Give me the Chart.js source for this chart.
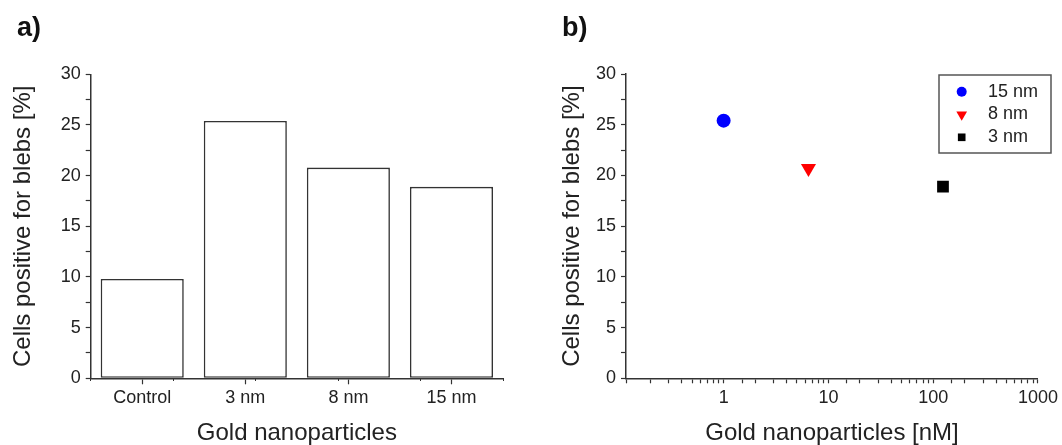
<!DOCTYPE html>
<html>
<head>
<meta charset="utf-8">
<script src="https://cdn.jsdelivr.net/npm/chart.js@4.4.1/dist/chart.umd.min.js"></script>
<style>
  html, body { margin: 0; padding: 0; background: #fff; }
  #wrap { position: relative; width: 1062px; height: 445px; overflow: hidden; }
  canvas { position: absolute; top: 0; }
  #chartA { left: 0; }
  #chartB { left: 531px; }
</style>
</head>
<body>
<div id="wrap">
  <canvas id="chartA" width="531" height="445"></canvas>
  <canvas id="chartB" width="531" height="445"></canvas>
</div>
<script>
// ---- Data ----
const barCategories = ['Control', '3 nm', '8 nm', '15 nm'];
const barValues = [9.8, 25.4, 20.8, 18.9];

const sizeLabels = ['15 nm', '8 nm', '3 nm'];
const concentrations = [1, 6.45, 124];      // nM
const blebValues = [25.4, 20.7, 18.9];      // %
const pointColors = ['#0000ff', '#ff0000', '#000000'];
const pointStyles = ['circle', 'triangle', 'rect'];

const yTickLabels = [0, 5, 10, 15, 20, 25, 30];
const logTickLabels = [1, 10, 100, 1000];

// ---- Common styling ----
const FONT = '"Liberation Sans", Arial, sans-serif';
const TEXT = '#222';
const AXIS = '#333';

Chart.defaults.font.family = FONT;
Chart.defaults.color = TEXT;

const panelLabel = {
  id: 'panelLabel',
  afterDraw(chart, args, opts) {
    const ctx = chart.ctx;
    ctx.save();
    ctx.font = 'bold 27px ' + FONT;
    ctx.fillStyle = '#111';
    ctx.textBaseline = 'alphabetic';
    ctx.fillText(opts.text, opts.x, opts.y);
    ctx.restore();
  }
};

// boxed legend like the Origin one
const boxLegend = {
  id: 'boxLegend',
  afterDraw(chart, args, opts) {
    if (!opts.show) return;
    const ctx = chart.ctx;
    ctx.save();
    ctx.strokeStyle = '#555';
    ctx.lineWidth = 1.5;
    ctx.strokeRect(opts.x, opts.y, opts.w, opts.h);
    ctx.font = '18px ' + FONT;
    ctx.textBaseline = 'middle';
    chart.data.datasets.forEach((ds, i) => {
      const cy = opts.y + opts.firstRow + i * opts.rowH;
      ctx.fillStyle = ds.backgroundColor;
      ctx.strokeStyle = ds.borderColor;
      Chart.helpers.drawPoint(ctx, {
        pointStyle: ds.pointStyle,
        rotation: ds.pointRotation || 0,
        radius: opts.markerRadius[i],
        borderWidth: 0
      }, opts.markX, cy);
      ctx.fillStyle = TEXT;
      ctx.fillText(ds.label, opts.textX, cy);
    });
    ctx.restore();
  }
};

function yAxis(titlePadTop, width) {
  return {
    type: 'linear',
    min: 0,
    max: 30,
    afterFit: (s) => { s.width = width; },
    border: { display: true, color: AXIS, width: 1.5 },
    grid: { drawOnChartArea: false, drawTicks: true, tickLength: 5, tickColor: AXIS, tickWidth: 1.2 },
    ticks: {
      stepSize: 2.5,
      padding: 5,
      font: { size: 18 },
      color: TEXT,
      callback: (v) => (yTickLabels.includes(v) ? String(v) : '')
    },
    title: {
      display: true,
      text: 'Cells positive for blebs [%]',
      font: { size: 24, lineHeight: 1 },
      color: TEXT,
      padding: { top: titlePadTop, bottom: 0 }
    }
  };
}

// ---- a) bar chart ----
new Chart(document.getElementById('chartA'), {
  type: 'bar',
  data: {
    labels: barCategories,
    datasets: [{
      data: barValues,
      backgroundColor: '#ffffff',
      borderColor: AXIS,
      borderWidth: 1.6,
      borderSkipped: false,
      barPercentage: 0.806,
      categoryPercentage: 1
    }]
  },
  options: {
    responsive: false,
    animation: false,
    layout: { padding: { left: 0, top: 74.3, right: 28, bottom: 0 } },
    plugins: {
      legend: { display: false },
      tooltip: { enabled: false },
      panelLabel: { text: 'a)', x: 17, y: 36 },
      boxLegend: { show: false }
    },
    scales: {
      x: {
        type: 'category',
        offset: true,
        afterFit: (s) => { s.height = 66.7; },
        border: { display: true, color: AXIS, width: 1.5 },
        grid: { offset: false, drawOnChartArea: false, drawTicks: true, tickLength: 6, tickColor: AXIS, tickWidth: 1.2 },
        ticks: { padding: 3, font: { size: 18 }, color: TEXT, maxRotation: 0 },
        title: {
          display: true,
          text: 'Gold nanoparticles',
          font: { size: 24, lineHeight: 1 },
          color: TEXT,
          padding: { top: 0, bottom: 0 }
        }
      },
      xMinor: {
        type: 'linear',
        position: { y: 0 },
        min: 0,
        max: barCategories.length,
        border: { display: false },
        grid: { drawOnChartArea: false, drawTicks: true, tickLength: 3, tickColor: AXIS, tickWidth: 1 },
        ticks: { stepSize: 1, display: false }
      },
      y: yAxis(11, 90.7)
    }
  },
  plugins: [panelLabel, boxLegend]
});

// ---- b) scatter on log x ----
new Chart(document.getElementById('chartB'), {
  type: 'scatter',
  data: {
    datasets: sizeLabels.map((label, i) => ({
      label,
      data: [{ x: concentrations[i], y: blebValues[i] }],
      backgroundColor: pointColors[i],
      borderColor: pointColors[i],
      borderWidth: 0,
      pointStyle: pointStyles[i],
      pointRotation: pointStyles[i] === 'triangle' ? 180 : 0,
      pointRadius: [7, 8.7, 8.3][i]
    }))
  },
  options: {
    responsive: false,
    animation: false,
    layout: { padding: { left: 0, top: 74, right: 23, bottom: 0 } },
    plugins: {
      legend: { display: false },
      tooltip: { enabled: false },
      panelLabel: { text: 'b)', x: 31, y: 36 },
      boxLegend: {
        show: true,
        x: 408, y: 75, w: 112, h: 78,
        firstRow: 16.7, rowH: 22.8,
        markX: 430.7, textX: 457,
        markerRadius: [5, 6.2, 5.4]
      }
    },
    scales: {
      x: {
        type: 'logarithmic',
        min: 0.117,
        max: 1000,
        afterFit: (s) => { s.height = 66.7; },
        border: { display: true, color: AXIS, width: 1.5 },
        grid: { drawOnChartArea: false, drawTicks: true, tickLength: 5, tickColor: AXIS, tickWidth: 1.2 },
        ticks: {
          autoSkip: false,
          maxRotation: 0,
          padding: 4,
          font: { size: 18 },
          color: TEXT,
          callback: (v) => (logTickLabels.includes(v) ? String(v) : '')
        },
        title: {
          display: true,
          text: 'Gold nanoparticles [nM]',
          font: { size: 24, lineHeight: 1 },
          color: TEXT,
          padding: { top: 0, bottom: 0 }
        }
      },
      y: yAxis(29, 95)
    }
  },
  plugins: [panelLabel, boxLegend]
});
</script>
</body>
</html>
